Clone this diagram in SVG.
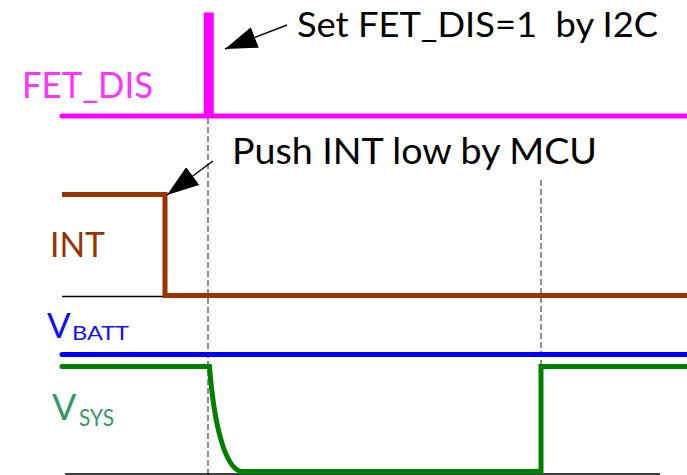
<svg xmlns="http://www.w3.org/2000/svg" width="687" height="475" viewBox="0 0 687 475">
<style>
  .lbl { font-family: Lato, "Open Sans", "Liberation Sans", sans-serif; }
  .wave { fill: none; stroke-width: 5; stroke-linejoin: miter; }
  .dash { stroke: #555; stroke-width: 1.3; stroke-dasharray: 6 3; fill: none; }
  .base { stroke: #000; stroke-width: 1.3; fill: none; }
  .arrow { stroke: #000; stroke-width: 1.5; fill: none; marker-end: url(#head); }
</style>
<defs>
  <marker id="head" viewBox="0 0 32 22" refX="32" refY="11" markerWidth="32" markerHeight="22" markerUnits="userSpaceOnUse" orient="auto">
    <path d="M0,0 L32,11 L0,22 z" fill="#000"/>
  </marker>
</defs>
<rect width="687" height="475" fill="#fff"/>

<g id="guides">
  <line class="dash" x1="208" y1="118" x2="208" y2="475"/>
  <line class="dash" x1="541" y1="180" x2="541" y2="364"/>
  <line class="base" x1="62" y1="296.5" x2="165" y2="296.5"/>
  <line class="base" x1="65" y1="474" x2="660" y2="474"/>
</g>

<g id="fet_dis">
  <path class="wave" stroke="#FF00FF" stroke-linecap="round" d="M62,116 H206.3 V15 H211.3 V116 H687"/>
  <text class="lbl" x="22" y="98" font-size="37" fill="#FF33FF" textLength="131" lengthAdjust="spacingAndGlyphs">FET_DIS</text>
</g>

<g id="int">
  <path class="wave" stroke="#993300" d="M62,194.5 H165 V295.5 H687"/>
  <text class="lbl" x="50" y="257" font-size="35" fill="#993300" textLength="55" lengthAdjust="spacingAndGlyphs">INT</text>
</g>

<g id="vbatt">
  <path class="wave" stroke="#0000FF" stroke-linecap="round" d="M62,354.5 H687"/>
  <text class="lbl" x="47" y="338" font-size="35" fill="#1010FF">V</text>
  <text class="lbl" x="72" y="340" font-size="19" fill="#1010FF" textLength="57" lengthAdjust="spacingAndGlyphs">BATT</text>
</g>

<g id="vsys">
  <path class="wave" stroke="#008000" stroke-linecap="round" d="M62,366.5 H209.5 C214,425 225,468 241,471.5 H541 V366.5 H687"/>
  <text class="lbl" x="52" y="420" font-size="36" fill="#339966">V</text>
  <text class="lbl" x="79" y="426" font-size="24" fill="#339966" textLength="35" lengthAdjust="spacingAndGlyphs">SYS</text>
</g>

<g id="notes">
  <text class="lbl" x="297" y="37" font-size="35" fill="#000" textLength="361" lengthAdjust="spacingAndGlyphs" xml:space="preserve">Set FET_DIS=1  by I2C</text>
  <text class="lbl" x="232" y="164" font-size="36" fill="#000" textLength="365" lengthAdjust="spacingAndGlyphs">Push INT low by MCU</text>
</g>

<g id="connectors">
  <line class="arrow" x1="287" y1="25" x2="225" y2="49"/>
  <line class="arrow" x1="213" y1="161" x2="167" y2="195"/>
</g>
</svg>
